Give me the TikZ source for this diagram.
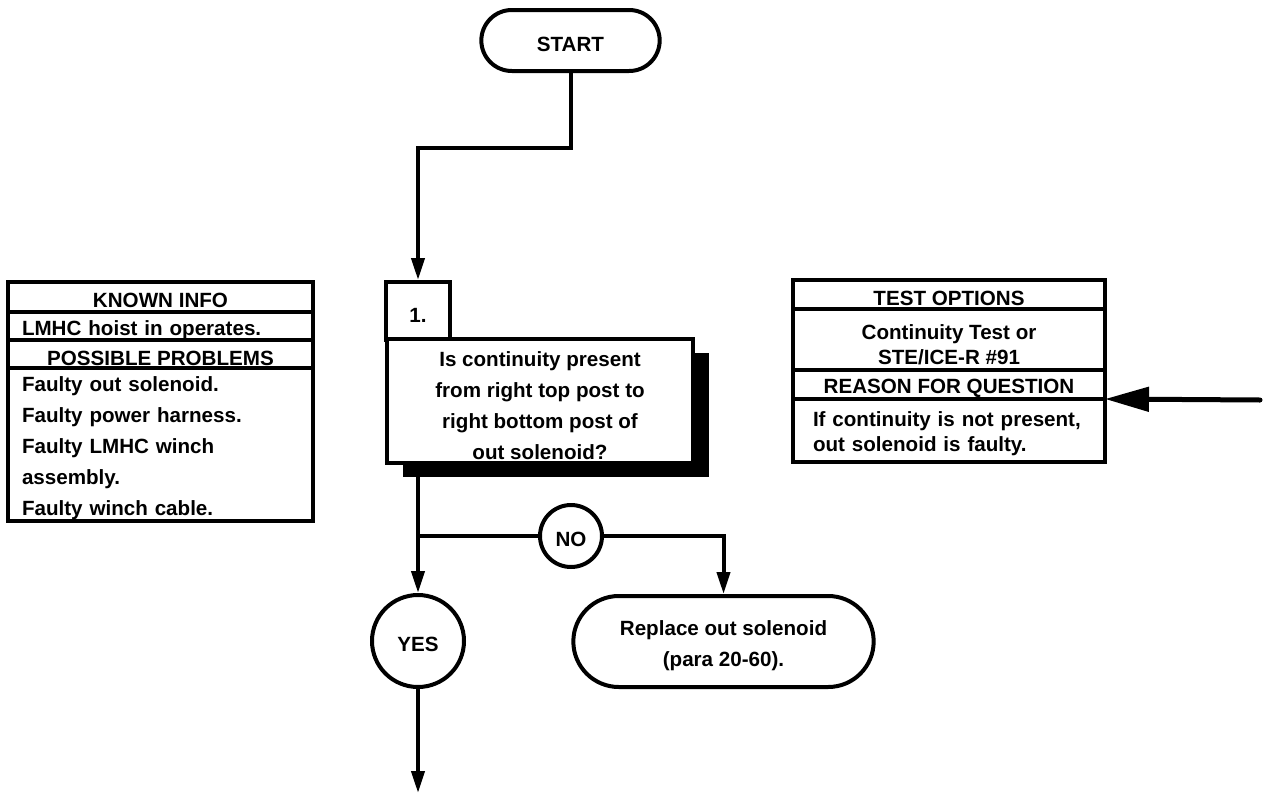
\documentclass[tikz,border=0pt]{standalone}
\usepackage{fontspec}
\setmainfont{Liberation Sans}
\usepackage{tikz}
\usetikzlibrary{shapes.misc, arrows.meta, positioning, shadows}
\newcommand{\lowstrut}{\rule{0pt}{22pt}}
\newcommand{\tallstrut}{\rule{0pt}{24pt}}

\begin{document}
\begin{tikzpicture}[
    x=1pt, y=-1pt,
    every node/.style={font=\fontsize{20.6}{31}\selectfont\bfseries,
                       execute at begin node=\lowstrut},
    tight/.style={font=\fontsize{20.6}{25}\selectfont\bfseries},
    pill/.style={draw, rounded rectangle, line width=4pt, align=center},
    qbox/.style={draw, rectangle, line width=4pt, fill=white, align=center},
    ring/.style={draw, circle, line width=4pt, inner sep=0pt},
    row/.style={draw, rectangle, line width=4pt, outer sep=0pt, inner ysep=1pt,
                fill=white, align=center},
    arrow/.style={-{Triangle[length=22pt,width=13pt]}, line width=4pt},
    bigarrow/.style={-{Triangle[length=44pt,width=24pt]}, line width=5pt, line cap=round},
]
\useasboundingbox (0,0) rectangle (1266,795);

%% Flujo principal
\node[pill, minimum width=185pt, minimum height=61pt] at (570.5,40.5) (start) {START};
\node[qbox, minimum width=64pt, minimum height=58pt] at (418,311) (qnum) {1.};
\node[qbox, minimum width=306pt, minimum height=122pt,
      drop shadow={fill=black, opacity=1, shadow xshift=16pt, shadow yshift=-14pt}]
      at (540,401) (quest) {\tallstrut Is continuity present\\from right top post to\\right bottom post of\\out solenoid?};
\node[ring, minimum size=62pt] at (571,536) (no)  {NO};
\node[ring, minimum size=92pt] at (418,641) (yes) {YES};
\node[pill, minimum width=307pt, minimum height=91pt] at (723.5,641.5) (replace)
      {\tallstrut Replace out solenoid\\(para 20-60).};

%% Tabla izquierda
\node[row, minimum width=305pt, minimum height=30pt] at (160.5,297) (known) {KNOWN INFO};
\node[row, minimum height=28pt, inner xsep=14pt, text width=277pt, align=left,
      below=0pt of known] (hoist) {LMHC hoist in operates.};
\node[row, minimum width=305pt, minimum height=28pt, below=0pt of hoist] (possible) {POSSIBLE PROBLEMS};
\node[row, minimum height=152pt, inner xsep=14pt, text width=277pt, align=left,
      below=0pt of possible] (problems)
      {Faulty out solenoid.\\Faulty power harness.\\Faulty LMHC winch\\assembly.\\Faulty winch cable.};

%% Tabla derecha
\node[row, minimum width=312pt, minimum height=29pt] at (949,294.5) (testopt) {TEST OPTIONS};
\node[row, tight, minimum width=312pt, minimum height=61pt, below=0pt of testopt] (contin)
      {\rule{0pt}{25pt}Continuity Test or\\STE/ICE-R \#91};
\node[row, minimum width=312pt, minimum height=29pt, below=0pt of contin] (reason) {REASON FOR QUESTION};
\node[row, tight, minimum height=63pt, inner xsep=20pt, text width=272pt, align=left,
      below=0pt of reason] (ifcont)
      {If continuity is not present,\\out solenoid is faulty.};

%% Flechas
\coordinate (split)     at (418,536);
\coordinate (next)      at (418,793);
\coordinate (fromright) at (1260,400);

\draw[arrow] (start.south) -- ++(0,75) -| (qnum.north);
\draw[line width=4pt] (quest.south -| qnum.south) -- (split) -- (no.west);
\draw[arrow] (split) -- (yes.north);
\draw[arrow] (no.east) -| (replace.north);
\draw[arrow] (yes.south) -- (next);
\draw[bigarrow] (fromright) -- (reason.south east);

\end{tikzpicture}
\end{document}
